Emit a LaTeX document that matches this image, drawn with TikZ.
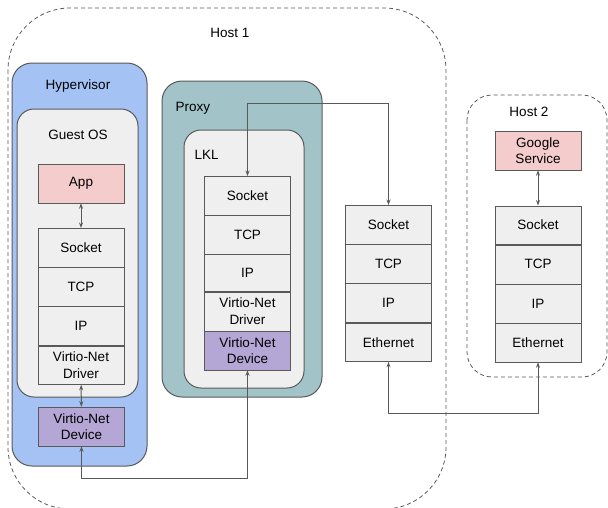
\documentclass[tikz,border=0pt]{standalone}
\usepackage{fontspec}
\setmainfont{Liberation Sans}
\usepackage{tikz}
\usetikzlibrary{positioning,calc,arrows.meta}

\definecolor{edge}{HTML}{595959}
\definecolor{cell}{HTML}{EFEFEF}
\definecolor{hyperblue}{HTML}{A4C2F4}
\definecolor{proxyteal}{HTML}{A2C4C9}
\definecolor{apppink}{HTML}{F4CCCC}
\definecolor{devpurple}{HTML}{B4A7D6}

\tikzset{
	layer/.style={minimum height=38.8pt,minimum width=86pt,draw=edge,fill=cell,inner sep=1pt,align=center,text=black,font=\fontsize{13.5}{16.5}\selectfont},
	label/.style={font=\fontsize{13.5}{16.5}\selectfont,text=black},
	host/.style={draw=edge,dash pattern=on 4pt off 3pt,rounded corners=62pt,line width=0.8pt},
	wrap/.style={draw=edge,rounded corners=20pt,line width=1pt},
	link/.style={draw=edge,line width=1pt,{Stealth[length=5.5pt,width=4pt]}-{Stealth[length=5.5pt,width=4pt]}}
}

\begin{document}
\begin{tikzpicture}[x=1pt,y=-1pt,node distance=0pt]
		\useasboundingbox (0,0) rectangle (608,507);
		
		% hosts
		\draw[host] (8,8) rectangle (446,509);
		\node[label] (h1) at (230,33) {Host 1};
		\draw[host,rounded corners=25pt] (467,95) rectangle (607,377);
		\node[label] (h2) at (529,112) {Host 2};
		
		% hypervisor
		\draw[wrap,fill=hyperblue] (12,63) rectangle (147,466);
		\node[label] (hv) at (78,86) {Hypervisor};
		\draw[wrap,fill=cell,rounded corners=17pt] (17,109) rectangle (138,397);
		\node[label] (gos) at (78,135) {Guest OS};
		
		\node[layer,fill=apppink,minimum height=39pt] (app) at (81,183.5) {App};
		\node[layer,anchor=north] (gsock) at (81,228) {Socket};
		\node[layer,below=of gsock] (gtcp) {TCP};
		\node[layer,below=of gtcp] (gip) {IP};
		\node[layer,below=of gip] (gdrv) {Virtio-Net\\Driver};
		\node[layer,fill=devpurple,minimum height=39pt] (gdev) at (81.5,426.5) {Virtio-Net\\Device};
		
		\draw[link] (app) -- (gsock);
		\draw[link] (gdrv) -- (gdev);
		
		% proxy
		\draw[wrap,fill=proxyteal] (162,81) rectangle (322,397);
		\node[label,anchor=west] (px) at (172,108) {Proxy};
		\draw[wrap,fill=cell,rounded corners=17pt] (184,130) rectangle (304,388);
		\node[label,anchor=west] (lkl) at (191,155) {LKL};
		
		\node[layer,anchor=north] (lsock) at (247.5,176) {Socket};
		\node[layer,below=of lsock] (ltcp) {TCP};
		\node[layer,below=of ltcp,minimum height=37pt] (lip) {IP};
		\node[layer,below=of lip] (ldrv) {Virtio-Net\\Driver};
		\node[layer,below=of ldrv,fill=devpurple] (ldev) {Virtio-Net\\Device};
		
		% host 1 stack
		\node[layer,anchor=north] (msock) at (388.5,205) {Socket};
		\node[layer,below=of msock] (mtcp) {TCP};
		\node[layer,below=of mtcp] (mip) {IP};
		\node[layer,below=of mip] (meth) {Ethernet};
		
		% host 2 stack
		\node[layer,fill=apppink,minimum height=39pt] (gsvc) at (538,150.5) {Google\\Service};
		\node[layer,anchor=north] (hsock) at (538,205.5) {Socket};
		\node[layer,below=of hsock] (htcp) {TCP};
		\node[layer,below=of htcp] (hip) {IP};
		\node[layer,below=of hip] (heth) {Ethernet};
		
		\draw[link] (gsvc) -- (hsock);
		
		% wires
		\coordinate (topbend) at (0,103);
		\coordinate (ethbend) at (0,413);
		\coordinate (devbend) at (0,478);
		
		\draw[link] (lsock.north) -- (lsock.north |- topbend) -| (msock.north);
		\draw[link] (meth.south) -- (meth.south |- ethbend) -| (heth.south);
		\draw[link] (gdev.south) -- (gdev.south |- devbend) -| (ldev.south);
	\end{tikzpicture}
\end{document}
